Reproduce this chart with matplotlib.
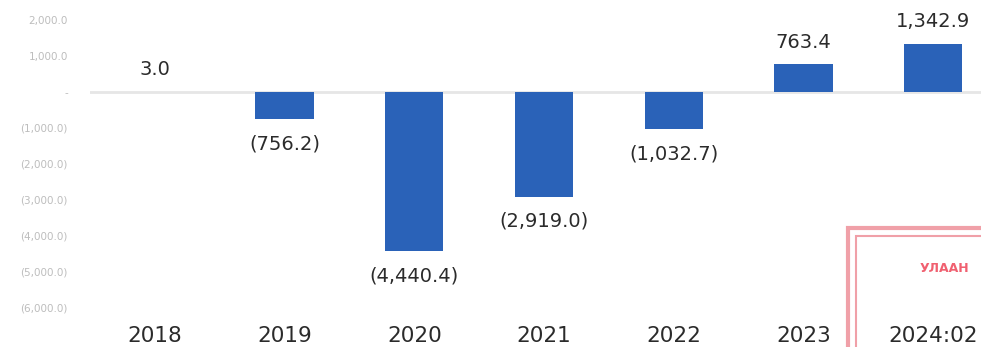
import matplotlib.pyplot as plt
from matplotlib.patches import Rectangle

# data
years = ['2018', '2019', '2020', '2021', '2022', '2023', '2024:02']
values = [3.0, -756.2, -4440.4, -2919.0, -1032.7, 763.4, 1342.9]
yticks = [2000, 1000, 0, -1000, -2000, -3000, -4000, -5000, -6000]


def fmt(v):
    if v < 0:
        return f'({abs(v):,.1f})'
    if v == 0:
        return '-'
    return f'{v:,.1f}'


W, H = 981, 347
fig = plt.figure(figsize=(W / 100, H / 100), dpi=100)
ax = fig.add_axes([90 / W, 29 / H, 908 / W, 318 / H])

x = range(len(years))
bars = ax.bar(x, values, width=0.45, color='#2a62b8', zorder=2)
ax.axhline(0, color='#e6e6e6', lw=2, zorder=1)

for b, v in zip(bars, values):
    if v >= 0:
        ax.annotate(fmt(v), (b.get_x() + b.get_width() / 2, v), xytext=(0, 9),
                    textcoords='offset points', ha='center', va='bottom',
                    fontsize=14, color='#2b2b2b')
    else:
        ax.annotate(fmt(v), (b.get_x() + b.get_width() / 2, v), xytext=(0, -11),
                    textcoords='offset points', ha='center', va='top',
                    fontsize=14, color='#2b2b2b')

ax.set_xlim(-0.5, 6.5)
ax.set_ylim(-6300, 2560)
ax.set_xticks(list(x))
ax.set_xticklabels(years, fontsize=15.5, color='#2b2b2b')
ax.set_yticks(yticks)
ax.set_yticklabels([fmt(t) for t in yticks], fontsize=7.5, color='#bdbdbd')
ax.tick_params(length=0)
ax.tick_params(axis='x', pad=6)
ax.tick_params(axis='y', pad=16)
for s in ax.spines.values():
    s.set_visible(False)

# scanned stamp in the lower right corner
for off, lw in [(0, 3), (8, 1.5)]:
    fig.patches.append(Rectangle(((848 + off) / W, -0.2), 1, (347 - 228 - off) / H + 0.2,
                                 transform=fig.transFigure, fill=False,
                                 edgecolor='#f0a0a8', lw=lw, zorder=0))
fig.text(920 / W, 1 - 268 / H, 'УЛААН', color='#f06070', fontsize=9,
         fontweight='bold', ha='left', va='center')

fig.savefig('out.png', dpi=100)
